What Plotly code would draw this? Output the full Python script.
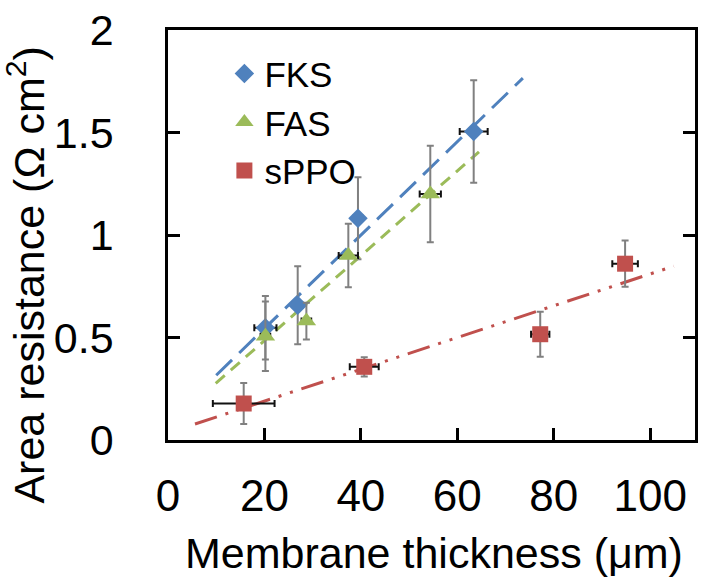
import plotly.graph_objects as go

# ---- data ----
fks_x = [20.2, 26.9, 39.4, 63.4]
fks_y = [0.548, 0.657, 1.082, 1.505]
fks_yerr = [0.155, 0.19, 0.2, 0.25]
fks_xerr = [2.3, 1.0, 1.0, 2.9]

fas_x = [20.2, 28.7, 37.4, 54.4]
fas_y = [0.506, 0.58, 0.90, 1.20]
fas_yerr = [0.17, 0.09, 0.155, 0.235]
fas_xerr = [1.0, 1.0, 2.0, 2.2]

sppo_x = [15.7, 40.7, 77.2, 94.8]
sppo_y = [0.178, 0.357, 0.516, 0.86]
sppo_yerr = [0.10, 0.047, 0.11, 0.113]
sppo_xerr = [6.4, 3.0, 1.9, 2.65]

# linear trend lines (end points)
fks_fit_x = [10.0, 73.6]
fks_fit_y = [0.316, 1.765]
fas_fit_x = [9.9, 64.5]
fas_fit_y = [0.276, 1.406]
sppo_fit_x = [5.6, 104.9]
sppo_fit_y = [0.078, 0.848]

x_ticks = [0, 20, 40, 60, 80, 100]
y_ticks = [0, 0.5, 1, 1.5, 2]
y_tick_text = ["0", "0.5", "1", "1.5", "2"]

BLUE = "#4F81BD"
GREEN = "#9BBB59"
RED = "#C0504D"
FONT = "Arial, Liberation Sans, sans-serif"

fig = go.Figure()

# trend lines
fig.add_trace(go.Scatter(x=fks_fit_x, y=fks_fit_y, mode="lines", showlegend=False,
                         line=dict(color=BLUE, width=3, dash="22px,10px")))
fig.add_trace(go.Scatter(x=fas_fit_x, y=fas_fit_y, mode="lines", showlegend=False,
                         line=dict(color=GREEN, width=3, dash="12px,8px")))
fig.add_trace(go.Scatter(x=sppo_fit_x, y=sppo_fit_y, mode="lines", showlegend=False,
                         line=dict(color=RED, width=3,
                                   dash="23px,9px,3px,9px,3px,9px")))


def ey(vals):
    return dict(type="data", array=vals, visible=True, color="#808080",
                thickness=2, width=3.5)


def ex(vals):
    return dict(type="data", array=vals, visible=True, color="#111111",
                thickness=2, width=3.5)


fig.add_trace(go.Scatter(x=fks_x, y=fks_y, mode="markers", name="FKS",
                         marker=dict(symbol="diamond", size=15, color=BLUE),
                         error_y=ey(fks_yerr), error_x=ex(fks_xerr)))
fig.add_trace(go.Scatter(x=fas_x, y=fas_y, mode="markers", name="FAS",
                         marker=dict(symbol="triangle-up", size=17, color=GREEN),
                         error_y=ey(fas_yerr), error_x=ex(fas_xerr)))
fig.add_trace(go.Scatter(x=sppo_x, y=sppo_y, mode="markers", name="sPPO",
                         marker=dict(symbol="square", size=16, color=RED),
                         error_y=ey(sppo_yerr), error_x=ex(sppo_xerr)))

fig.update_layout(
    width=702, height=579,
    margin=dict(l=168, r=4, t=30, b=139),
    plot_bgcolor="white", paper_bgcolor="white",
    font=dict(family=FONT, color="black"),
    showlegend=True,
    legend=dict(x=0.107, y=0.965, xanchor="left", yanchor="top",
                font=dict(size=35, family=FONT), bgcolor="rgba(0,0,0,0)",
                tracegroupgap=0),
    xaxis=dict(range=[0, 109.3], tickvals=x_ticks, ticks="inside", ticklen=12,
               tickwidth=2.5, tickcolor="black", showline=True, linecolor="black",
               linewidth=2.5, mirror=True, showgrid=False, zeroline=False,
               tickfont=dict(size=44, family=FONT), ticklabelstandoff=15),
    yaxis=dict(range=[0, 2], tickvals=y_ticks, ticktext=y_tick_text,
               ticks="inside", ticklen=12, tickwidth=2.5, tickcolor="black",
               showline=True, linecolor="black", linewidth=2.5, mirror="ticks",
               showgrid=False, zeroline=False,
               tickfont=dict(size=43, family=FONT), ticklabelstandoff=43),
    annotations=[
        dict(text="Membrane thickness (μm)", xref="paper", yref="paper",
             x=0.504, y=-0.212, xanchor="center", yanchor="top", showarrow=False,
             font=dict(size=43, family=FONT)),
        dict(text="Area resistance (Ω cm<sup>2</sup>)", xref="paper", yref="paper",
             x=-0.269, y=0.404, xanchor="center", yanchor="middle", showarrow=False,
             textangle=-90, font=dict(size=43, family=FONT)),
    ],
)

fig.write_html("out.html")
